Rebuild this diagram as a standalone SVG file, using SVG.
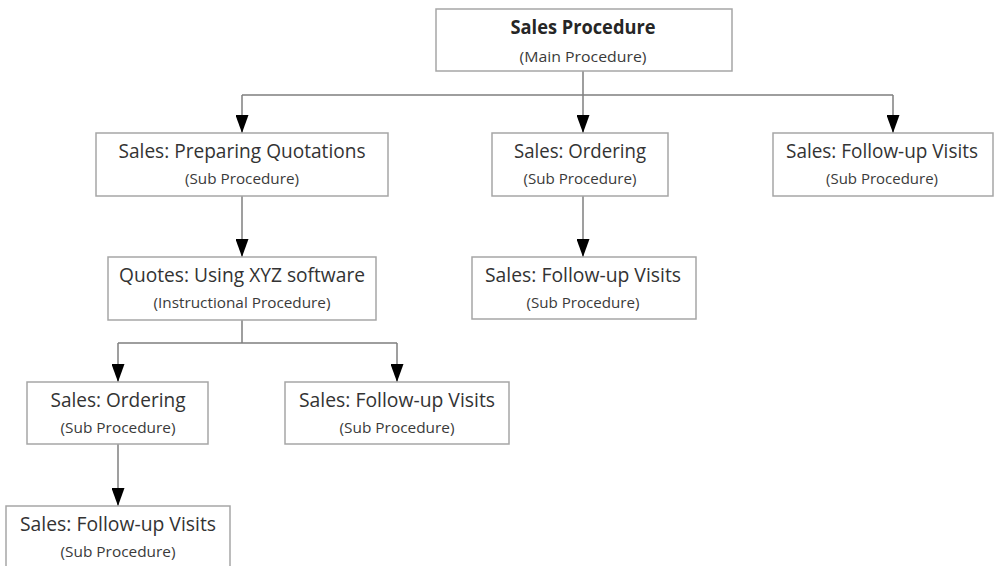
<svg xmlns="http://www.w3.org/2000/svg" width="996" height="566" viewBox="0 0 996 566">
  <defs>
    <style>
      .box { fill: #ffffff; stroke: #a6a6a6; stroke-width: 1.5; }
      .t { font-family: "Open Sans", "Noto Sans", "Liberation Sans", sans-serif; font-size: 20px; fill: #333333; text-anchor: middle; }
      .tb { font-family: "Open Sans", "Noto Sans", "Liberation Sans", sans-serif; font-size: 20px; font-weight: bold; fill: #262626; text-anchor: middle; }
      .s { font-family: "Open Sans", "Noto Sans", "Liberation Sans", sans-serif; font-size: 15px; fill: #3a3a3a; text-anchor: middle; }
      .ln { fill: none; stroke: #7f7f7f; stroke-width: 1.5; }
      .ar { fill: none; stroke: #7f7f7f; stroke-width: 1.5; marker-end: url(#arrow); }
    </style>
    <marker id="arrow" viewBox="0 0 18 13" refX="18" refY="6.5" markerWidth="18" markerHeight="13" markerUnits="userSpaceOnUse" orient="auto">
      <path d="M0,0 L18,6.5 L0,13 z" fill="#000000"/>
    </marker>
  </defs>

  <g id="connectors">
    <path class="ln" d="M583,71 V95 M242,95 H893"/>
    <path class="ar" d="M242,95 V133"/>
    <path class="ar" d="M583,95 V133"/>
    <path class="ar" d="M893,95 V133"/>
    <path class="ar" d="M242,196 V257"/>
    <path class="ar" d="M583,196 V257"/>
    <path class="ln" d="M242,320 V343 M118,343 H397"/>
    <path class="ar" d="M118,343 V382"/>
    <path class="ar" d="M397,343 V382"/>
    <path class="ar" d="M118,444 V506"/>
  </g>

  <g id="main">
    <rect class="box" x="436" y="9" width="296" height="62"/>
    <text class="tb" x="583" y="34" textLength="145" lengthAdjust="spacingAndGlyphs">Sales Procedure</text>
    <text class="s" x="583" y="62" textLength="127" lengthAdjust="spacingAndGlyphs">(Main Procedure)</text>
  </g>

  <g id="preparing-quotations">
    <rect class="box" x="96" y="133" width="292" height="63"/>
    <text class="t" x="242" y="158" textLength="247" lengthAdjust="spacingAndGlyphs">Sales: Preparing Quotations</text>
    <text class="s" x="242" y="184" textLength="114" lengthAdjust="spacingAndGlyphs">(Sub Procedure)</text>
  </g>

  <g id="ordering-1">
    <rect class="box" x="492" y="133" width="176" height="63"/>
    <text class="t" x="580" y="158" textLength="132" lengthAdjust="spacingAndGlyphs">Sales: Ordering</text>
    <text class="s" x="580" y="184" textLength="113" lengthAdjust="spacingAndGlyphs">(Sub Procedure)</text>
  </g>

  <g id="followup-1">
    <rect class="box" x="773" y="133" width="220" height="63"/>
    <text class="t" x="882" y="158" textLength="192" lengthAdjust="spacingAndGlyphs">Sales: Follow-up Visits</text>
    <text class="s" x="882" y="184" textLength="112" lengthAdjust="spacingAndGlyphs">(Sub Procedure)</text>
  </g>

  <g id="quotes-xyz">
    <rect class="box" x="108" y="257" width="268" height="63"/>
    <text class="t" x="242" y="282" textLength="246" lengthAdjust="spacingAndGlyphs">Quotes: Using XYZ software</text>
    <text class="s" x="242" y="308" textLength="177" lengthAdjust="spacingAndGlyphs">(Instructional Procedure)</text>
  </g>

  <g id="followup-2">
    <rect class="box" x="472" y="257" width="224" height="62"/>
    <text class="t" x="583" y="282" textLength="196" lengthAdjust="spacingAndGlyphs">Sales: Follow-up Visits</text>
    <text class="s" x="583" y="308" textLength="113" lengthAdjust="spacingAndGlyphs">(Sub Procedure)</text>
  </g>

  <g id="ordering-2">
    <rect class="box" x="27" y="382" width="181" height="62"/>
    <text class="t" x="118" y="407" textLength="135" lengthAdjust="spacingAndGlyphs">Sales: Ordering</text>
    <text class="s" x="118" y="433" textLength="115" lengthAdjust="spacingAndGlyphs">(Sub Procedure)</text>
  </g>

  <g id="followup-3">
    <rect class="box" x="285" y="382" width="224" height="62"/>
    <text class="t" x="397" y="407" textLength="196" lengthAdjust="spacingAndGlyphs">Sales: Follow-up Visits</text>
    <text class="s" x="397" y="433" textLength="115" lengthAdjust="spacingAndGlyphs">(Sub Procedure)</text>
  </g>

  <g id="followup-4">
    <rect class="box" x="6" y="506" width="224" height="70"/>
    <text class="t" x="118" y="531" textLength="196" lengthAdjust="spacingAndGlyphs">Sales: Follow-up Visits</text>
    <text class="s" x="118" y="557" textLength="115" lengthAdjust="spacingAndGlyphs">(Sub Procedure)</text>
  </g>
</svg>
